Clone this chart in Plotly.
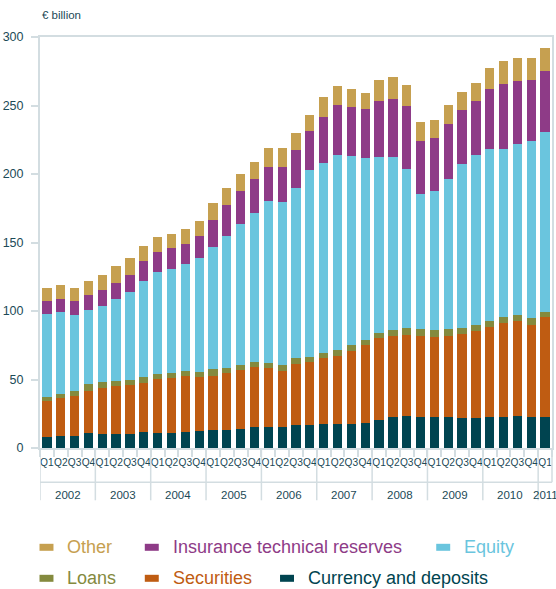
import plotly.graph_objects as go

years = ["2002"]*4 + ["2003"]*4 + ["2004"]*4 + ["2005"]*4 + ["2006"]*4 + ["2007"]*4 + ["2008"]*4 + ["2009"]*4 + ["2010"]*4 + ["2011"]
quarters = ["Q1", "Q2", "Q3", "Q4"]*9 + ["Q1"]

currency = [7.8, 8.8, 8.8, 10.9, 10.0, 10.0, 10.0, 11.7, 10.9, 10.9, 11.7, 12.4, 13.1, 13.1, 13.9, 15.3,
            15.3, 15.3, 16.8, 16.8, 17.5, 17.5, 17.5, 18.2, 20.4, 22.6, 23.4, 22.6, 22.6, 22.6, 21.9, 21.9,
            22.6, 22.6, 23.4, 22.6, 22.6]
securities = [26.3, 27.7, 29.2, 30.5, 33.8, 35.3, 35.7, 35.5, 39.2, 40.2, 40.9, 39.4, 39.5, 41.4, 42.8, 43.6,
              42.9, 40.7, 44.3, 45.7, 48.0, 49.4, 53.1, 56.7, 59.6, 58.9, 58.8, 58.9, 58.2, 58.9, 61.1, 63.3,
              65.5, 68.4, 69.1, 66.9, 72.8]
loans = [3.1, 2.7, 3.6, 5.1, 4.1, 3.4, 3.7, 4.4, 3.7, 3.4, 3.4, 3.4, 4.8, 3.7, 3.6, 3.6,
         3.6, 4.3, 4.4, 3.7, 3.6, 4.4, 4.3, 3.7, 3.7, 4.4, 5.1, 5.1, 5.1, 5.1, 4.3, 4.3,
         4.4, 4.4, 4.3, 5.1, 3.6]
equity = [60.6, 60.1, 55.2, 54.0, 55.5, 59.8, 64.2, 70.1, 74.4, 75.9, 78.1, 83.2, 89.1, 96.3, 103.0, 108.8,
          118.2, 119.0, 124.0, 136.5, 138.7, 142.3, 138.0, 132.8, 128.5, 126.3, 116.1, 98.6, 101.4, 109.5, 119.8, 124.1,
          125.5, 122.6, 124.9, 129.2, 131.4]
insurance = [9.5, 9.2, 10.5, 10.9, 11.7, 11.7, 12.4, 14.6, 14.6, 15.3, 14.6, 16.1, 19.7, 22.6, 24.0, 24.8,
             24.9, 25.6, 27.8, 28.4, 33.6, 36.5, 35.8, 35.8, 40.8, 42.3, 46.0, 38.6, 38.7, 40.2, 39.4, 39.4,
             43.8, 47.5, 45.9, 44.6, 44.5]
other = [9.2, 10.2, 9.2, 10.3, 10.9, 12.4, 12.4, 10.9, 11.0, 10.3, 10.9, 11.0, 12.4, 12.4, 12.5, 12.4,
         13.8, 13.8, 12.4, 11.7, 14.6, 13.9, 13.1, 11.7, 15.4, 16.1, 15.3, 13.9, 13.2, 13.8, 13.1, 13.2,
         15.3, 16.7, 16.8, 16.0, 16.8]

y_ticks = [0, 50, 100, 150, 200, 250, 300]

series = [
    ("Currency and deposits", currency, "#004450"),
    ("Securities", securities, "#BF5C12"),
    ("Loans", loans, "#848A3E"),
    ("Equity", equity, "#6AC5DE"),
    ("Insurance technical reserves", insurance, "#8E3B87"),
    ("Other", other, "#C6A050"),
]
colors = {name: col for name, _, col in series}

legend_rows = [["Other", "Insurance technical reserves", "Equity"],
               ["Loans", "Securities", "Currency and deposits"]]
legend_x = [[39, 144.5, 436.5], [39, 144.5, 280]]   # swatch left edge, px
legend_y = [547, 578]                                # row centre, px

W, H = 556, 589
L, R, T, B = 39.5, 3.5, 36.7, 141.3
pw, ph = W - L - R, H - T - B
def px2x(px): return (px - L) / pw
def py2y(py): return (H - B - py) / ph

cats = [f"{y} {q}" for y, q in zip(years, quarters)]
year_names = list(dict.fromkeys(years))
year_pos = [[i for i, y in enumerate(years) if y == yr] for yr in year_names]

fig = go.Figure()
for name, vals, col in series:
    fig.add_trace(go.Bar(
        x=cats, y=vals, marker=dict(color=col, line=dict(width=0)),
        name=name, showlegend=False,
    ))

axcol = "#d3dde1"
txtcol = "#1c4a57"
base = "Liberation Sans, Arial, sans-serif"
shapes = [dict(type="line", xref="paper", yref="paper", x0=0, x1=1, y0=py2y(482), y1=py2y(482),
               line=dict(color=axcol, width=1.5)),
          dict(type="line", xref="paper", yref="paper", x0=1, x1=1, y0=0, y1=py2y(482),
               line=dict(color=axcol, width=1.5))]
annotations = [dict(text="€ billion", xref="paper", yref="paper", x=px2x(40), y=py2y(15),
                    xanchor="left", yanchor="middle", showarrow=False,
                    font=dict(size=11.5, color=txtcol))]
for yr, pos in zip(year_names, year_pos):
    shapes.append(dict(type="line", xref="x", yref="paper", x0=pos[0] - 0.5, x1=pos[0] - 0.5,
                       y0=0, y1=py2y(500), line=dict(color=axcol, width=1.5)))
    annotations.append(dict(text=yr, xref="x", yref="paper", x=(pos[0] + pos[-1]) / 2, y=py2y(495),
                            xanchor="center", yanchor="middle", showarrow=False,
                            font=dict(size=11.5, color=txtcol, family=base)))
for r, row in enumerate(legend_rows):
    for c, name in enumerate(row):
        x0 = legend_x[r][c]
        yc = legend_y[r]
        shapes.append(dict(type="rect", xref="paper", yref="paper",
                           x0=px2x(x0), x1=px2x(x0 + 14), y0=py2y(yc + 3.5), y1=py2y(yc - 3.5),
                           fillcolor=colors[name], line=dict(width=0)))
        annotations.append(dict(text=name, xref="paper", yref="paper", x=px2x(x0 + 26), y=py2y(yc),
                                xanchor="left", yanchor="middle", showarrow=False,
                                font=dict(size=18, color=colors[name])))

fig.update_layout(
    width=W, height=H,
    margin=dict(l=L, r=R, t=T, b=B, autoexpand=False),
    plot_bgcolor="white", paper_bgcolor="white",
    barmode="stack", bargap=0.33,
    font=dict(family=base, color=txtcol),
    showlegend=False,
    shapes=shapes, annotations=annotations,
)
fig.update_yaxes(range=[0, 300], tickvals=y_ticks, showgrid=False, zeroline=False, automargin=False,
                 showline=True, linecolor=axcol, linewidth=2, mirror=True,
                 ticks="outside", ticklen=7, tickcolor=axcol, tickwidth=1.5, ticklabelstandoff=5,
                 tickfont=dict(size=12.5, color=txtcol))
fig.update_xaxes(type="category", range=[-0.5, 36.5], showgrid=False, automargin=False,
                 showline=True, linecolor=axcol, linewidth=2, mirror=True,
                 tickmode="array", tickvals=cats, ticktext=quarters, tickangle=0,
                 tickson="boundaries", ticks="outside", ticklen=7, tickcolor=axcol, tickwidth=1.5,
                 ticklabelstandoff=4,
                 tickfont=dict(size=10.2, color=txtcol, family=base))

fig.write_html("out.html", config={"displayModeBar": False},
               post_script="document.body.style.margin='0';")
